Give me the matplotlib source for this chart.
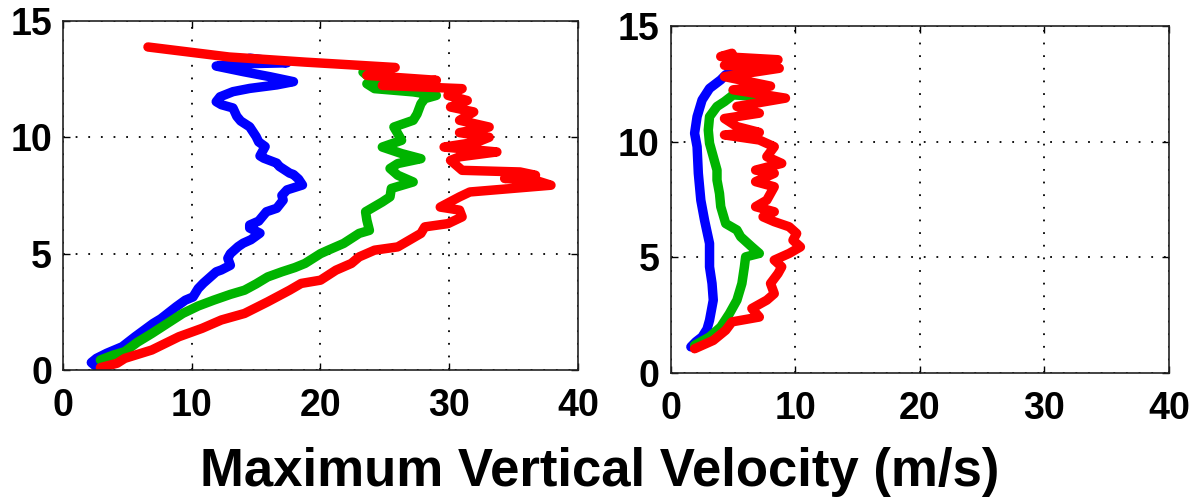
import numpy as np
import matplotlib.pyplot as plt

plt.rcParams['font.family'] = ['Liberation Sans', 'DejaVu Sans']
plt.rcParams['font.weight'] = 'bold'

# left panel (velocity m/s, height km)
l_blue_v = [2.5, 2.2, 2.6, 3.4, 4.6, 5.6, 7.0, 7.6, 8.8, 9.5, 10.1, 10.5, 10.9, 11.9, 12.3, 13.0, 12.8,
            13.0, 13.6, 14.0, 14.6, 15.3, 14.5, 14.5, 15.2, 15.8, 16.6, 17.1, 17.0, 17.4, 18.6, 18.3,
            17.9, 17.6, 16.8, 16.6, 15.6, 15.3, 15.7, 15.2, 15.0, 14.5, 13.8, 13.5, 13.2, 12.3, 11.9,
            12.2, 13.2, 14.5, 16.6, 17.9, 16.1, 14.0, 11.9, 13.5, 17.4, 14.5]
l_blue_h = [0.18, 0.32, 0.5, 0.72, 1.0, 1.43, 2.0, 2.2, 2.72, 3.0, 3.14, 3.5, 3.73, 4.22, 4.3, 4.5, 4.8,
            5.0, 5.3, 5.45, 5.6, 5.88, 6.1, 6.23, 6.4, 6.8, 6.95, 7.3, 7.5, 7.74, 7.95, 8.2,
            8.4, 8.46, 8.75, 8.89, 9.1, 9.2, 9.6, 9.8, 10.03, 10.45, 10.7, 10.9, 11.26, 11.4, 11.53,
            11.74, 11.96, 12.1, 12.25, 12.39, 12.6, 12.82, 13.06, 13.15, 13.2, 13.4]

l_green_v = [2.9, 3.9, 4.8, 5.8, 6.9, 8.1, 9.3, 10.5, 11.7, 13.0, 14.1, 15.0, 15.9, 17.0, 18.0, 18.8,
             20.0, 20.6, 21.8, 23.0, 23.8, 23.6, 23.5, 24.8, 25.4, 25.5, 27.2, 26.0, 25.4, 26.0, 27.8,
             26.3, 24.8, 26.3, 26.0, 25.7, 27.2, 27.5, 27.8, 28.1, 29.0, 27.2, 24.2, 23.6, 24.8, 23.6,
             23.3, 24.1, 24.5]
l_green_h = [0.43, 0.64, 0.79, 1.2, 1.57, 2.0, 2.43, 2.75, 3.0, 3.25, 3.43, 3.7, 4.0, 4.22, 4.4, 4.58,
             5.0, 5.15, 5.44, 5.87, 6.0, 6.44, 6.8, 7.22, 7.44, 7.8, 8.08, 8.37, 8.66, 8.87, 9.08,
             9.3, 9.58, 9.87, 10.16, 10.44, 10.73, 11.0, 11.44, 11.66, 11.8, 11.95, 12.09, 12.3, 12.45, 12.66,
             12.8, 12.95, 13.0]

l_red_v = [2.9, 4.2, 4.8, 6.9, 9.0, 10.8, 12.3, 14.1, 15.9, 17.6, 18.5, 20.0, 21.2, 22.4, 23.0, 24.2,
           26.0, 26.9, 27.8, 28.1, 29.9, 31.0, 30.8, 29.3, 30.8, 31.6, 37.9, 36.7, 34.3, 36.7, 35.5,
           31.0, 30.1, 30.8, 33.7, 29.6, 32.2, 33.1, 30.8, 33.1, 30.8, 31.9, 30.1, 31.4, 29.9, 31.0,
           24.8, 29.0, 23.6, 25.8, 18.8, 12.9, 6.6]
l_red_h = [0.1, 0.29, 0.5, 0.86, 1.43, 1.79, 2.15, 2.43, 2.93, 3.43, 3.72, 3.86, 4.29, 4.58, 4.86, 5.15,
           5.29, 5.58, 5.87, 6.15, 6.29, 6.58, 6.87, 7.0, 7.44, 7.65, 7.94, 8.15, 8.23, 8.37, 8.51,
           8.58, 9.01, 9.16, 9.37, 9.58, 9.8, 10.0, 10.2, 10.44, 10.73, 11.09, 11.3, 11.58, 11.8, 12.09,
           12.23, 12.45, 12.66, 13.0, 13.23, 13.45, 13.88]

# right panel
r_blue_v = [1.6, 2.0, 2.5, 2.9, 3.1, 3.4, 3.3, 3.1, 3.1, 2.7, 2.4, 2.2, 2.1, 1.9, 2.1, 2.5, 3.1, 4.0,
            4.4, 5.3, 5.9, 7.7, 6.2, 5.0]
r_blue_h = [1.13, 1.35, 1.56, 1.9, 2.28, 3.15, 3.87, 4.59, 5.6, 6.6, 7.47, 8.63, 9.78, 10.36, 11.08, 11.8,
            12.3, 12.67, 12.89, 13.1, 13.25, 13.17, 13.35, 13.1]

r_green_v = [1.9, 3.1, 4.0, 4.7, 5.3, 5.7, 5.9, 6.0, 7.1, 6.5, 5.6, 5.3, 4.4, 4.0, 3.9, 3.7, 3.7, 3.4,
             3.1, 3.0, 3.1, 3.7, 4.3, 5.0, 7.1, 5.8, 5.0]
r_green_h = [1.2, 1.56, 1.99, 2.57, 3.15, 3.87, 4.59, 5.02, 5.17, 5.45, 5.89, 6.18, 6.46, 7.19, 7.76,
             8.34, 8.77, 9.35, 9.93, 10.5, 11.08, 11.52, 11.73, 12.02, 11.95, 12.1, 12.2]

r_red_v = [1.9, 3.4, 4.4, 4.9, 7.1, 6.5, 7.7, 8.3, 8.0, 8.6, 8.9, 8.3, 9.5, 10.4, 9.8, 10.1, 9.5, 8.3,
           7.4, 8.3, 6.8, 7.7, 8.3, 6.8, 8.3, 6.8, 8.9, 7.7, 8.3, 7.1, 4.3, 7.1, 5.3, 4.3, 7.1, 5.3,
           9.2, 5.0, 8.0, 4.3, 8.7, 4.3, 8.6, 4.0, 4.9]
r_red_h = [1.05, 1.41, 1.85, 2.21, 2.42, 2.79, 3.15, 3.43, 3.87, 4.3, 4.59, 4.88, 5.17, 5.45, 5.74, 6.03,
           6.32, 6.54, 6.75, 6.97, 7.19, 7.47, 8.05, 8.27, 8.63, 8.77, 9.06, 9.35, 9.78, 10.07, 10.29,
           10.4, 10.65, 11.0, 11.23, 11.52, 11.88, 12.24, 12.4, 12.81, 13.17, 13.3, 13.54, 13.68, 13.82]

xticks = [0, 10, 20, 30, 40]
yticks = [0, 5, 10, 15]
colors = ['#0000ff', '#00b400', '#ff0000']

fig = plt.figure(figsize=(11.93, 5.03), dpi=100)
ax1 = fig.add_axes([0.0528, 0.2644, 0.4317, 0.694])
ax2 = fig.add_axes([0.5624, 0.2584, 0.4174, 0.690])

panels = [
    (ax1, [(l_blue_v, l_blue_h), (l_green_v, l_green_h), (l_red_v, l_red_h)]),
    (ax2, [(r_blue_v, r_blue_h), (r_green_v, r_green_h), (r_red_v, r_red_h)]),
]

for ax, series in panels:
    for (v, h), c in zip(series, colors):
        ax.plot(v, h, color=c, lw=6.8, solid_joinstyle='round', solid_capstyle='round')
    ax.set_xlim(0, 40)
    ax.set_ylim(0, 15)
    ax.set_xticks(xticks)
    ax.set_yticks(yticks)
    ax.grid(True, color='black', linestyle=(0, (1, 6)), linewidth=1.3)
    ax.tick_params(direction='in', length=5, width=1, top=True, right=True, labelsize=27)
    ax.tick_params(axis='x', pad=13)
    ax.tick_params(axis='y', pad=8)
    for s in ax.spines.values():
        s.set_linewidth(1.2)
        s.set_color('#222222')
    for lab in ax.get_xticklabels() + ax.get_yticklabels():
        lab.set_fontweight('bold')

fig.text(0.503, 0.062, 'Maximum Vertical Velocity (m/s)', ha='center', va='center',
         fontsize=38, fontweight='bold')

plt.savefig('out.png', dpi=100)
